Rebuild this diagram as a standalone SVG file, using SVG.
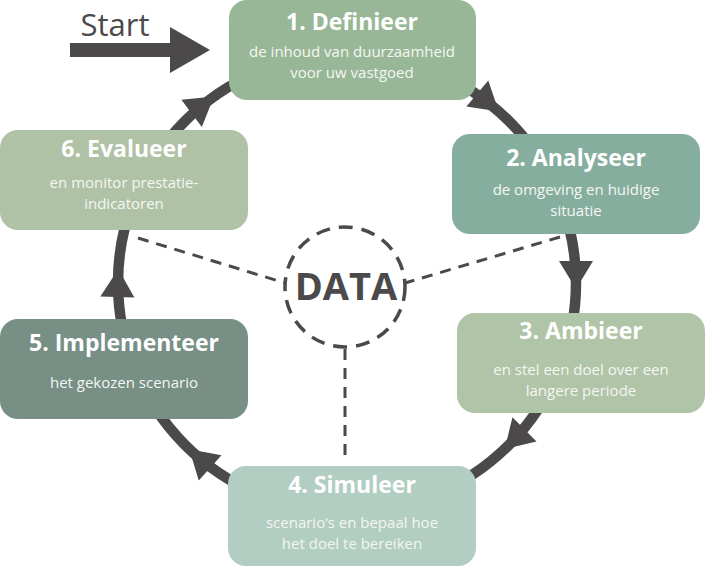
<svg xmlns="http://www.w3.org/2000/svg" width="705" height="579" viewBox="0 0 705 579">
<style>
.t{font-family:"Open Sans","Liberation Sans",sans-serif;font-weight:bold;font-size:23px;fill:#fff;text-anchor:middle}
.s{font-family:"Open Sans","Liberation Sans",sans-serif;font-size:15px;fill:#f4f6f2;text-anchor:middle}
.dash{fill:none;stroke:#4b4949;stroke-width:3;stroke-dasharray:11 8}
.ah{fill:#4b4949}
</style>
<defs>
<polygon id="head" points="576,289 559,261 593,261"/>
</defs>
<rect width="705" height="579" fill="#fff"/>
<g id="connectors">
<circle cx="347" cy="283" r="229" fill="none" stroke="#4b4949" stroke-width="10.5"/>
<use href="#head" class="ah" transform="rotate(0 347 283)"/>
<use href="#head" class="ah" transform="rotate(-50 347 283)"/>
<use href="#head" class="ah" transform="rotate(45 347 283)"/>
<use href="#head" class="ah" transform="rotate(132 347 283)"/>
<use href="#head" class="ah" transform="rotate(182 347 283)"/>
<use href="#head" class="ah" transform="rotate(-127 347 283)"/>
<line class="dash" x1="138" y1="238" x2="285" y2="283"/>
<line class="dash" x1="560" y1="237" x2="405" y2="283"/>
<line class="dash" x1="345" y1="349" x2="345" y2="456"/>
<g id="start">
<text x="115" y="36" font-family="Open Sans, Liberation Sans, sans-serif" font-size="31" fill="#4b4949" text-anchor="middle">Start</text>
<polygon points="70,43 170,43 170,27 210,50 170,73 170,57 70,57" fill="#4b4949"/>
</g>
</g>
<g id="data">
<circle cx="345" cy="287" r="60" fill="#fff" stroke="#4b4949" stroke-width="3.5" stroke-dasharray="14 9"/>
<text x="346" y="300" font-family="Open Sans, Liberation Sans, sans-serif" font-weight="bold" font-size="38" fill="#4b4949" text-anchor="middle">DATA</text>
</g>
<g id="n1">
<rect x="229" y="0" width="247" height="100" rx="18" fill="#98b797"/>
<text class="t" x="352" y="30">1. Definieer</text>
<text class="s" x="352" y="57">de inhoud van duurzaamheid</text>
<text class="s" x="352" y="78">voor uw vastgoed</text>
</g>
<g id="n2">
<rect x="452" y="134" width="248" height="100" rx="18" fill="#86ae9e"/>
<text class="t" x="576" y="166">2. Analyseer</text>
<text class="s" x="576" y="195">de omgeving en huidige</text>
<text class="s" x="576" y="216">situatie</text>
</g>
<g id="n3">
<rect x="457" y="313" width="248" height="100" rx="18" fill="#b0c4a7"/>
<text class="t" x="581" y="339">3. Ambieer</text>
<text class="s" x="581" y="375">en stel een doel over een</text>
<text class="s" x="581" y="396">langere periode</text>
</g>
<g id="n4">
<rect x="228" y="466" width="248" height="100" rx="18" fill="#b2cdc1"/>
<text class="t" x="352" y="493">4. Simuleer</text>
<text class="s" x="352" y="528">scenario’s en bepaal hoe</text>
<text class="s" x="352" y="549">het doel te bereiken</text>
</g>
<g id="n5">
<rect x="0" y="319" width="248" height="100" rx="18" fill="#778f85"/>
<text class="t" x="124" y="351">5. Implementeer</text>
<text class="s" x="124" y="388">het gekozen scenario</text>
</g>
<g id="n6">
<rect x="0" y="130" width="248" height="100" rx="18" fill="#b0c2a5"/>
<text class="t" x="124" y="157">6. Evalueer</text>
<text class="s" x="124" y="188">en monitor prestatie-</text>
<text class="s" x="124" y="209">indicatoren</text>
</g>
</svg>
